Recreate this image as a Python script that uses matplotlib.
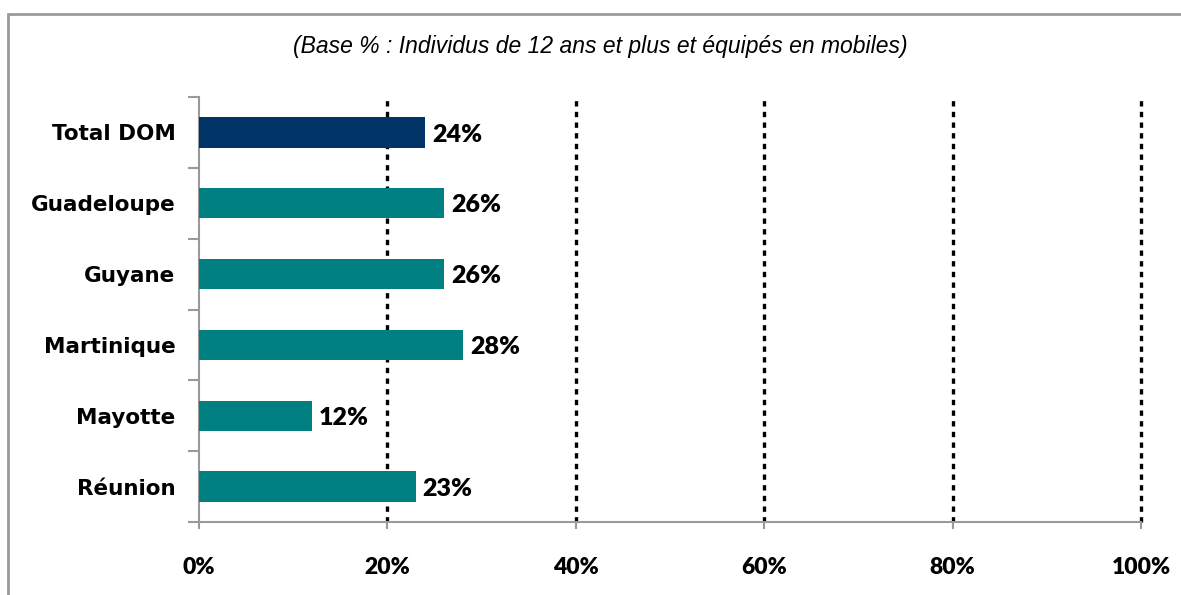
import matplotlib
matplotlib.use("Agg")
import matplotlib.pyplot as plt
from matplotlib.patches import Rectangle
from matplotlib.ticker import FixedLocator, FuncFormatter

# data
regions = ["Total DOM", "Guadeloupe", "Guyane", "Martinique", "Mayotte", "Réunion"]
shares = [24, 26, 26, 28, 12, 23]
bar_colors = ["#003366", "#008080", "#008080", "#008080", "#008080", "#008080"]
xticks = [0, 20, 40, 60, 80, 100]
subtitle = "(Base % : Individus de 12 ans et plus et équipés en mobiles)"

axis_gray = "#9a9a9a"

fig = plt.figure(figsize=(11.81, 5.95), dpi=100)
ax = fig.add_axes([199 / 1181, 1 - 522 / 595, 942 / 1181, 425 / 595])

# outer frame (cut off at right and bottom)
fig.patches.append(Rectangle((8 / 1181, -0.05), 1.2, 1 - 13.5 / 595 + 0.05,
                             transform=fig.transFigure, fill=False,
                             edgecolor=axis_gray, linewidth=2))

ypos = list(range(len(regions)))
ax.barh(ypos, shares, height=0.43, color=bar_colors, zorder=3)

for y, v in zip(ypos, shares):
    ax.text(v + 0.75, y + 0.03, f"{v}%", va="center", ha="left",
            fontsize=18, fontweight="heavy", family="Lato", zorder=4)

ax.set_xlim(0, 100)
ax.set_ylim(len(regions) - 0.5, -0.5)

# dotted gridlines
for x in xticks[1:]:
    ax.axvline(x, color="black", linestyle=(0, (1.6, 1.6)), linewidth=2.4,
               zorder=2, clip_on=False)

ax.set_xticks(xticks)
ax.xaxis.set_major_formatter(FuncFormatter(lambda v, p: f"{v:.0f}%"))
ax.tick_params(axis="x", length=5, width=1.5, color=axis_gray, pad=20)
for lab in ax.get_xticklabels():
    lab.set_fontsize(16.5)
    lab.set_fontweight("heavy")
    lab.set_family("Lato")

ax.set_yticks(ypos)
ax.set_yticklabels(regions)
ax.tick_params(axis="y", which="major", length=0, pad=17)
ax.yaxis.set_minor_locator(FixedLocator([i - 0.5 for i in range(len(regions) + 1)]))
ax.tick_params(axis="y", which="minor", length=8, width=1.5, color=axis_gray)
for lab in ax.get_yticklabels():
    lab.set_fontsize(15.5)
    lab.set_fontweight("bold")
    lab.set_family("DejaVu Sans")

for s in ["top", "right"]:
    ax.spines[s].set_visible(False)
for s in ["left", "bottom"]:
    ax.spines[s].set_color(axis_gray)
    ax.spines[s].set_linewidth(1.5)

fig.text(600 / 1181, 1 - 47 / 595, subtitle, ha="center", va="center",
         fontsize=16.5, style="italic", family="Liberation Sans")

fig.savefig("out.png", dpi=100)
